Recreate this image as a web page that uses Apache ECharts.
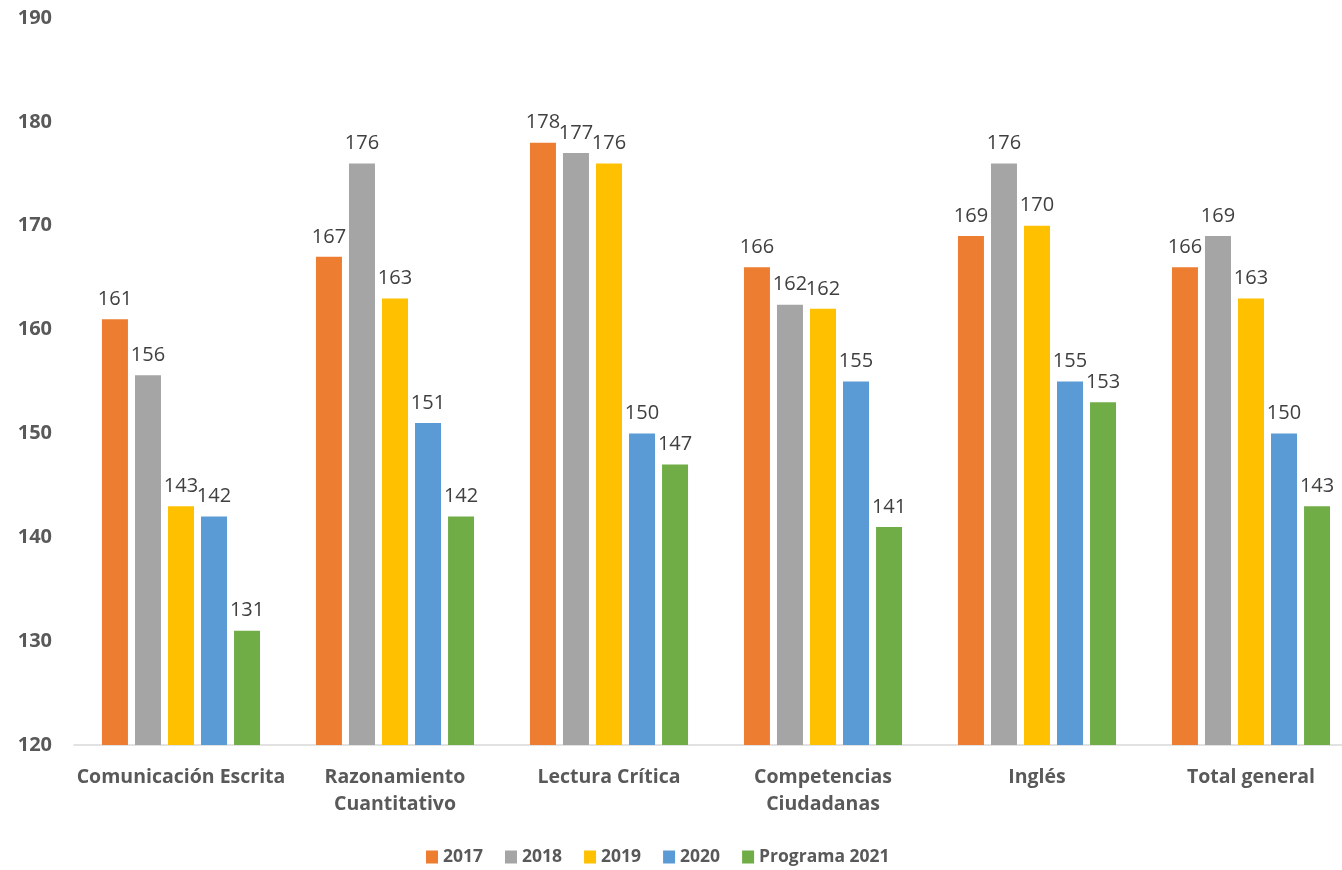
<!DOCTYPE html>
<html><head><meta charset="utf-8">
<script src="https://cdn.jsdelivr.net/npm/echarts@6/dist/echarts.min.js"></script>
<style>html,body{margin:0;padding:0;background:#fff;overflow:hidden}#c{width:1358px;height:870px}</style>
</head><body><div id="c"></div>
<script>
var categories = ['Comunicación Escrita','Razonamiento\nCuantitativo','Lectura Crítica','Competencias\nCiudadanas','Inglés','Total general'];
var seriesNames = ['2017','2018','2019','2020','Programa 2021'];
var s2017 = [161,167,178,166,169,166];
var s2018 = [155.6,176,177,162.4,176,169];
var s2019 = [143,163,176,162,170,163];
var s2020 = [142,151,150,155,155,150];
var s2021 = [131,142,147,141,153,143];
var yTicks = {min:120, max:190, interval:10};
var colors = ['#ED7D31','#A5A5A5','#FFC000','#5B9BD5','#70AD47'];
var values = [s2017,s2018,s2019,s2020,s2021];
var font = '"Open Sans", sans-serif';
var chart = echarts.init(document.getElementById('c'));
chart.setOption({
  backgroundColor:'#fff',
  animation:false,
  grid:{left:74, top:18, right:0, bottom:125, containLabel:false},
  legend:{top:843, left:421, itemWidth:12, itemHeight:13, itemGap:22, itemTextGap:5, icon:'rect',
    textStyle:{fontFamily:font, fontWeight:'bold', fontSize:17.5, color:'#595959'},
    data:seriesNames},
  xAxis:{type:'category', data:categories,
    axisLine:{lineStyle:{color:'#D9D9D9', width:1.5}}, axisTick:{show:false},
    axisLabel:{margin:19, interval:0, fontFamily:font, fontWeight:'bold', fontSize:19.5, color:'#595959', lineHeight:27}},
  yAxis:{type:'value', min:yTicks.min, max:yTicks.max, interval:yTicks.interval,
    splitLine:{show:false}, axisLine:{show:false}, axisTick:{show:false},
    axisLabel:{margin:22, fontFamily:font, fontWeight:'bold', fontSize:20, color:'#595959'}},
  series: seriesNames.map(function(n,i){ return {
    name:n, type:'bar', data:values[i], barWidth:26, barGap:'27%',
    itemStyle:{color:colors[i]},
    label:{show:true, position:'top', distance:10, fontFamily:font, fontSize:20, color:'#404040',
      formatter:function(p){return Math.round(p.value);}}
  };})
});
</script></body></html>
